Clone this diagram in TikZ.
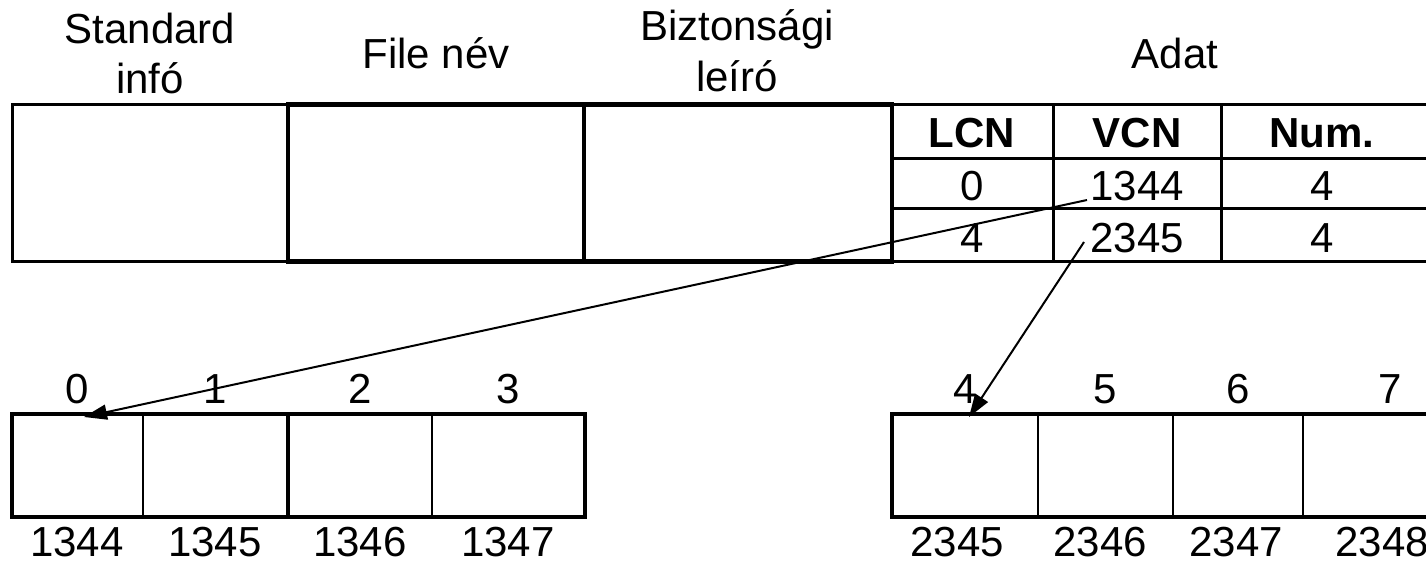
\documentclass[tikz,border=0pt]{standalone}
\usepackage{fontspec}
\setmainfont{Liberation Sans}
\usetikzlibrary{arrows.meta}
\begin{document}
\begin{tikzpicture}[x=1pt,y=-1pt,
  lbl/.style={font=\fontsize{42}{50}\selectfont, inner sep=0pt, anchor=base},
  hdr/.style={font=\fontsize{42}{50}\selectfont\bfseries, inner sep=0pt, anchor=base},
  box/.style={draw, line width=3pt, inner sep=0pt, outer sep=0pt},
  thickbox/.style={box, line width=4.5pt},
  cell/.style={draw, line width=2.5pt, inner sep=0pt, outer sep=0pt},
  ptr/.style={line width=2pt, -{Triangle[length=23pt,width=15pt]}}
]
\useasboundingbox (0,0) rectangle (1426,562);
\clip (0,0) rectangle (1426,562);

% record headings
\node[lbl] (std1) at (150,43) {Standard};
\node[lbl] (std2) at (150,93) {infó};
\node[lbl] (fnm)  at (436,68) {File név};
\node[lbl] (sec1) at (737,40) {Biztonsági};
\node[lbl] (sec2) at (737,91) {leíró};
\node[lbl] (dat)  at (1175,68) {Adat};

% record attribute boxes
\node[box, minimum width=276, minimum height=157] (stdbox) at (150,182.5) {};
\node[thickbox, minimum width=296, minimum height=157] (fnbox) at (436,183) {};
\node[thickbox, minimum width=308, minimum height=157] (secbox) at (738,183) {};

% run list table
\node[box, minimum width=161, minimum height=54] (t00) at (972.5,131) {};
\node[box, minimum width=168, minimum height=54] (t01) at (1137,131) {};
\node[box, minimum width=240, minimum height=54] (t02) at (1341,131) {};
\node[box, minimum width=161, minimum height=50] (t10) at (972.5,183) {};
\node[box, minimum width=168, minimum height=50] (t11) at (1137,183) {};
\node[box, minimum width=240, minimum height=50] (t12) at (1341,183) {};
\node[box, minimum width=161, minimum height=53] (t20) at (972.5,234.5) {};
\node[box, minimum width=168, minimum height=53] (t21) at (1137,234.5) {};
\node[box, minimum width=240, minimum height=53] (t22) at (1341,234.5) {};
\draw[line width=4.5pt] (t00.north west) -- (t20.south west);

\node[hdr] (hl) at (972,147) {LCN};
\node[hdr] (hv) at (1137,147) {VCN};
\node[hdr] (hn) at (1322,147) {Num.};
\node[lbl] (r1l) at (972,200) {0};
\node[lbl] (r1v) at (1137,200) {1344};
\node[lbl] (r1n) at (1322,200) {4};
\node[lbl] (r2l) at (972,252) {4};
\node[lbl] (r2v) at (1137,252) {2345};
\node[lbl] (r2n) at (1322,252) {4};

% first run of clusters
\node[cell, minimum width=131, minimum height=103] (c0) at (77.5,465.5) {};
\node[cell, minimum width=145, minimum height=103] (c1) at (215.5,465.5) {};
\node[cell, minimum width=144, minimum height=103] (c2) at (360,465.5) {};
\node[cell, minimum width=153, minimum height=103] (c3) at (508.5,465.5) {};
\draw[line width=3.5pt] (c0.north west) rectangle (c3.south east);
\draw[line width=3.5pt] (c2.north west) -- (c2.south west);

\node[lbl] (l0) at (77,403) {0};
\node[lbl] (l1) at (215,403) {1};
\node[lbl] (l2) at (360,403) {2};
\node[lbl] (l3) at (508,403) {3};
\node[lbl] (v0) at (77,556) {1344};
\node[lbl] (v1) at (215,556) {1345};
\node[lbl] (v2) at (360,556) {1346};
\node[lbl] (v3) at (508,556) {1347};

% second run of clusters
\node[cell, minimum width=146, minimum height=103] (c4) at (965,465.5) {};
\node[cell, minimum width=135, minimum height=103] (c5) at (1105.5,465.5) {};
\node[cell, minimum width=130, minimum height=103] (c6) at (1238,465.5) {};
\node[cell, minimum width=167, minimum height=103] (c7) at (1386.5,465.5) {};
\draw[line width=3.5pt] (c4.north west) rectangle (c7.south east);

\node[lbl] (l4) at (965,403) {4};
\node[lbl] (l5) at (1105,403) {5};
\node[lbl] (l6) at (1238,403) {6};
\node[lbl] (l7) at (1390,403) {7};
\node[lbl] (v4) at (957,556) {2345};
\node[lbl] (v5) at (1100,556) {2346};
\node[lbl] (v6) at (1236,556) {2347};
\node[lbl] (v7) at (1382,556) {2348};

% run pointers
\coordinate (s1) at (1087,200);
\coordinate (s2) at (1084,242);
\coordinate (p0) at (84,417);
\coordinate (p4) at (969,417);
\draw[ptr] (s1) -- (p0);
\draw[ptr] (s2) -- (p4);
\end{tikzpicture}
\end{document}
